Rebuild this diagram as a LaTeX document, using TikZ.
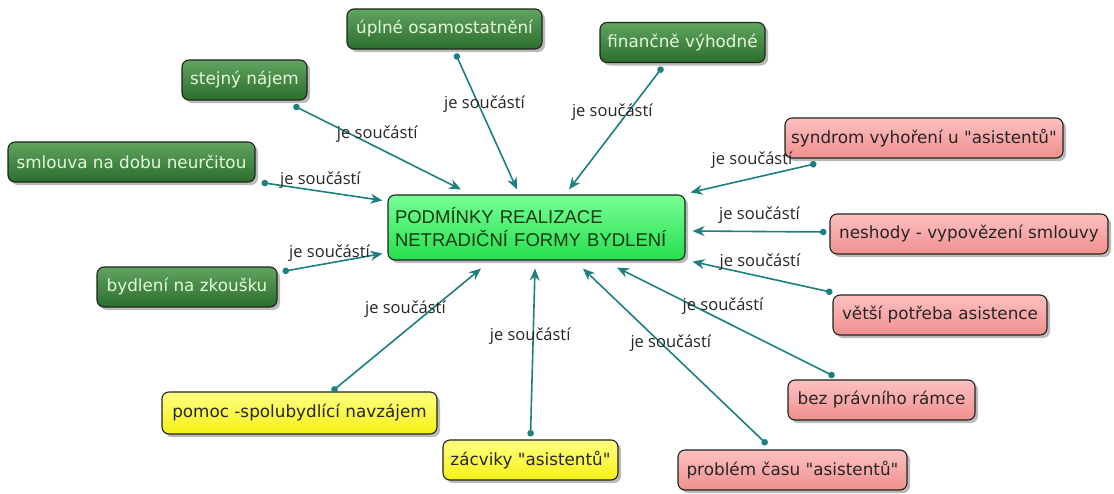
\documentclass[tikz,border=0pt]{standalone}
\usepackage{fontspec}
\setmainfont{DejaVu Sans}[Ligatures=TeXOff]
\newfontfamily\lblfont{Open Sans}
\newfontfamily\capfont{Liberation Sans}
\usepackage{tikz}
\usetikzlibrary{positioning, arrows.meta, shadows}

\definecolor{edgeteal}{RGB}{28,128,128}
\definecolor{boxline}{RGB}{30,36,30}
\definecolor{proTop}{RGB}{96,164,96}
\definecolor{proBot}{RGB}{44,110,44}
\definecolor{proText}{RGB}{228,246,220}
\definecolor{conTop}{RGB}{253,192,192}
\definecolor{conBot}{RGB}{240,143,143}
\definecolor{yelTop}{RGB}{255,255,130}
\definecolor{yelBot}{RGB}{246,240,20}
\definecolor{midTop}{RGB}{120,255,150}
\definecolor{midBot}{RGB}{38,222,78}
\definecolor{midText}{RGB}{18,58,18}

\begin{document}
\begin{tikzpicture}[x=1pt, y=-1pt, semithick,
  concept/.style={draw=boxline, rounded corners=7pt, line width=1.1pt, minimum height=40pt,
    inner xsep=6pt, font=\fontsize{16.8}{20}\selectfont,
    drop shadow={shadow xshift=3pt, shadow yshift=-3pt, fill=black!60, opacity=.45}},
  pro/.style={concept, top color=proTop, bottom color=proBot, text=proText},
  con/.style={concept, top color=conTop, bottom color=conBot, text=black!85},
  mutual/.style={concept, top color=yelTop, bottom color=yelBot, text=black!85},
  part/.style={draw=edgeteal, line width=1.6pt, {Circle[length=6.5pt]}-{Stealth[length=12pt,width=10pt]}},
  lbl/.style={font=\lblfont\fontsize{16.5}{18}\selectfont, text=black!85, inner sep=0pt},
]
  \path[use as bounding box, fill=white] (0,0) rectangle (1114,493);

  \node[pro, minimum width=195pt] (uplne) at (444.5,29) {úplné osamostatnění};
  \node[pro, minimum width=165pt] (financne) at (682.5,42.5) {finančně výhodné};
  \node[pro, minimum width=125pt] (stejny) at (244.5,80) {stejný nájem};
  \node[pro, minimum width=247pt] (smlouva) at (131.5,162) {smlouva na dobu neurčitou};
  \node[pro, minimum width=180pt] (zkouska) at (187,287) {bydlení na zkoušku};
  \node[mutual, minimum width=275pt, minimum height=42pt] (pomoc) at (299.5,413) {pomoc -spolubydlící navzájem};
  \node[mutual, minimum width=175pt] (zacviky) at (530.5,460) {zácviky "asistentů"};
  \node[con, minimum width=229pt] (cas) at (792.5,470) {problém času "asistentů"};
  \node[con, minimum width=187pt] (ramec) at (881.5,400) {bez právního rámce};
  \node[con, minimum width=214pt] (potreba) at (940,315) {větší potřeba asistence};
  \node[con, minimum width=278pt] (neshody) at (969,234) {neshody - vypovězení smlouvy};
  \node[con, minimum width=278pt] (syndrom) at (924,138) {syndrom vyhoření u "asistentů"};

  % central concept
  \node[concept, top color=midTop, bottom color=midBot, text=midText, minimum height=65pt,
    inner xsep=7pt, text width=283pt, align=left, font=\capfont\fontsize{18.5}{23}\selectfont]
    (podminky) at (536.5,227.5) {PODMÍNKY REALIZACE\\NETRADIČNÍ FORMY BYDLENÍ};

  \path
   ([xshift=11pt,yshift=-4pt]uplne.south) edge[part] node[lbl,pos=.39,xshift=5pt,yshift=2pt] {je součástí} ([xshift=-19.5pt,yshift=5pt]podminky.north)
   ([xshift=-14pt,yshift=-5pt]stejny.south east) edge[part] node[lbl,pos=.47,xshift=5pt,yshift=11pt] {je součástí} ([xshift=-75.5pt,yshift=5pt]podminky.north)
   ([xshift=6pt]smlouva.south east) edge[part] node[lbl,pos=.47,xshift=2pt,yshift=11pt] {je součástí} ([xshift=-5pt,yshift=-6pt]podminky.north west)
   ([xshift=-20pt,yshift=-4pt]financne.south) edge[part] node[lbl,pos=.43,xshift=-10pt,yshift=8pt] {je součástí} ([xshift=32.5pt,yshift=5pt]podminky.north)
   ([xshift=32pt,yshift=-5pt]syndrom.south west) edge[part] node[lbl,pos=.48,xshift=-4pt,yshift=17pt] {je součástí} ([xshift=5pt,yshift=2pt]podminky.north east)
   ([xshift=-3pt,yshift=2pt]neshody.west) edge[part] node[lbl,pos=.5,yshift=16pt] {je součástí} ([xshift=7pt,yshift=-3.5pt]podminky.east)
   ([yshift=2pt]potreba.north west) edge[part] node[lbl,pos=.54,xshift=3pt,yshift=14pt] {je součástí} ([xshift=7pt,yshift=-1pt]podminky.south east)
   ([xshift=47pt,yshift=3pt]ramec.north west) edge[part] node[lbl,pos=.54,xshift=6pt,yshift=11pt] {je součástí} ([xshift=80.5pt,yshift=-7pt]podminky.south)
   ([xshift=-25.5pt,yshift=5pt]cas.north) edge[part] node[lbl,pos=.55,xshift=5pt,yshift=5pt] {je součástí} ([xshift=46.5pt,yshift=-8pt]podminky.south)
   ([yshift=3pt]zacviky.north) edge[part] node[lbl,pos=.6,xshift=-3pt] {je součástí} ([xshift=-1.5pt,yshift=-8pt]podminky.south)
   ([xshift=32.5pt]pomoc.north) edge[part] node[lbl,pos=.56,xshift=-10pt,yshift=13pt] {je součástí} ([xshift=-55.5pt,yshift=-8pt]podminky.south)
   ([xshift=5pt,yshift=-5pt]zkouska.north east) edge[part] node[lbl,pos=.49,xshift=-2pt,yshift=10pt] {je součástí} ([xshift=-5pt,yshift=7pt]podminky.south west);
\end{tikzpicture}
\end{document}
